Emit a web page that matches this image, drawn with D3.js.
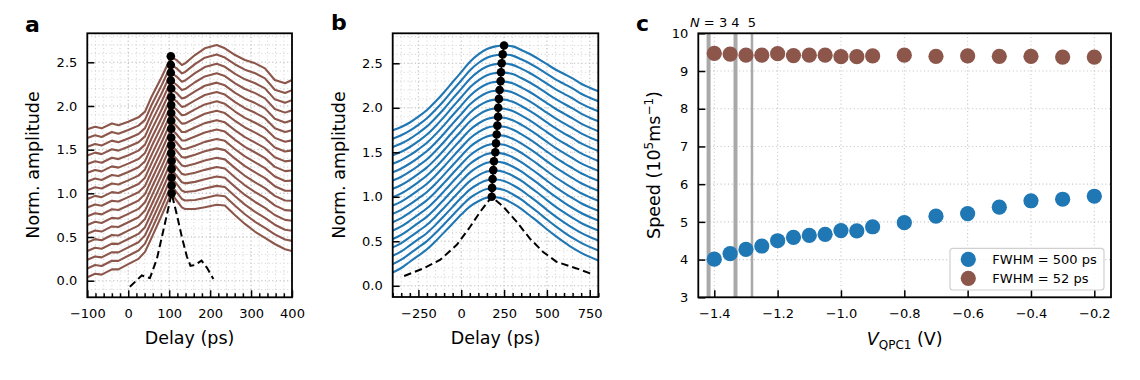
<!DOCTYPE html>
<html>
<head>
<meta charset="utf-8">
<script src="https://cdn.jsdelivr.net/npm/d3@7"></script>
<style>
  body { margin: 0; background: #fff; }
  svg { font-family: "DejaVu Sans", sans-serif; }
</style>
</head>
<body>
<svg id="fig" width="1140" height="380"></svg>
<script>
// ---- panel a: short pulse (FWHM = 52 ps) ----
const delayA = [-100, -81, -65, -40, -24, 0, 25, 41, 57, 82, 105, 118, 131, 139, 163, 187, 216, 236, 261, 285, 310, 334, 358, 383, 400];
const firstTraceA = [0.04, 0.08, 0.07, 0.13, 0.13, 0.19, 0.25, 0.33, 0.49, 0.75, 1.0, 0.92, 0.84, 0.82, 0.82, 0.84, 0.87, 0.86, 0.75, 0.65, 0.56, 0.49, 0.42, 0.36, 0.34];
const lastTraceA = [0.033, 0.063, 0.044, 0.10, 0.08, 0.12, 0.17, 0.235, 0.406, 0.635, 0.864, 0.826, 0.769, 0.788, 0.883, 0.96, 0.998, 0.96, 0.883, 0.826, 0.788, 0.73, 0.597, 0.56, 0.597];
const inputDelayA = [4, 33, 53, 70, 86, 106, 118, 131, 143, 152, 163, 179, 192, 208];
const inputAmpA = [-0.07, 0.06, 0.03, 0.25, 0.58, 1.0, 0.77, 0.50, 0.28, 0.17, 0.18, 0.23, 0.15, 0.02];
const peakDelayA = [106, 106, 106, 106, 106, 105, 105, 105, 105, 105, 105, 105, 105, 105, 104, 104, 104, 104];
const peakAmpA = [1.00, 1.09, 1.18, 1.28, 1.37, 1.46, 1.55, 1.64, 1.74, 1.83, 1.92, 2.01, 2.10, 2.20, 2.29, 2.38, 2.47, 2.57];

// ---- panel b: long pulse (FWHM = 500 ps) ----
const delayB = [-400, -350, -300, -250, -200, -150, -100, -50, 0, 50, 100, 150, 200, 250, 300, 350, 400, 450, 500, 550, 600, 650, 700, 750, 800];
const firstTraceB = [0.15, 0.20, 0.27, 0.34, 0.41, 0.50, 0.60, 0.70, 0.80, 0.89, 0.95, 0.99, 0.995, 0.975, 0.925, 0.865, 0.79, 0.715, 0.635, 0.56, 0.49, 0.425, 0.37, 0.325, 0.285];
const lastTraceB = [0.047, 0.085, 0.135, 0.20, 0.275, 0.37, 0.475, 0.59, 0.70, 0.815, 0.90, 0.96, 0.99, 1.0, 0.99, 0.95, 0.905, 0.85, 0.79, 0.73, 0.68, 0.63, 0.57, 0.525, 0.485];
const inputDelayB = [-333, -221, -124, -26, 51, 110, 178, 245, 323, 401, 478, 556, 673, 766];
const inputAmpB = [0.11, 0.195, 0.29, 0.46, 0.66, 0.83, 1.0, 0.89, 0.72, 0.53, 0.38, 0.27, 0.195, 0.13];
const peakDelayB = [178, 180, 183, 187, 191, 199, 203, 207, 211, 215, 216, 220, 224, 230, 232, 236, 242, 250];
const peakAmpB = [1.0, 1.1, 1.2, 1.3, 1.4, 1.5, 1.6, 1.7, 1.8, 1.9, 2.0, 2.1, 2.2, 2.3, 2.4, 2.5, 2.6, 2.7];

// vertical offset of each trace and how far it has evolved from first to last trace
const traceOffset = [0, 0.1, 0.2, 0.3, 0.4, 0.5, 0.6, 0.7, 0.8, 0.9, 1.0, 1.1, 1.2, 1.3, 1.4, 1.5, 1.6, 1.7];
const traceShape = [0, 0.06, 0.12, 0.18, 0.24, 0.29, 0.35, 0.41, 0.47, 0.53, 0.59, 0.65, 0.71, 0.76, 0.82, 0.88, 0.94, 1];

// ---- panel c: speed vs gate voltage ----
const vQPC = [-1.4, -1.35, -1.3, -1.25, -1.2, -1.15, -1.1, -1.05, -1.0, -0.95, -0.9, -0.8, -0.7, -0.6, -0.5, -0.4, -0.3, -0.2];
const speed500 = [4.01, 4.16, 4.27, 4.36, 4.50, 4.59, 4.64, 4.67, 4.77, 4.76, 4.87, 4.98, 5.15, 5.22, 5.39, 5.56, 5.60, 5.68];
const speed52 = [9.47, 9.45, 9.42, 9.42, 9.46, 9.41, 9.42, 9.42, 9.38, 9.38, 9.40, 9.42, 9.39, 9.40, 9.39, 9.39, 9.37, 9.37];
const channelV = [-1.418, -1.333, -1.281];
const channelLabel = ["N = 3", "4", "5"];
const seriesNames = ["FWHM = 500 ps", "FWHM = 52 ps"];

const BLUE = "#1f77b4", BROWN = "#8c564b";
const svg = d3.select("#fig");
const fmt1 = d3.format(".1f");
const fmt0 = d3.format("d");

// axes box with dotted grid, inward ticks and spines
function makeAxes(id, box, xDom, yDom, o) {
  const x = d3.scaleLinear().domain(xDom).range([box.l, box.r]);
  const y = d3.scaleLinear().domain(yDom).range([box.b, box.t]);
  const g = svg.append("g");

  svg.append("clipPath").attr("id", id).append("rect")
    .attr("x", box.l).attr("y", box.t).attr("width", box.r - box.l).attr("height", box.b - box.t);

  const grid = g.append("g");
  const gridLines = (xs, ys, col) => {
    grid.selectAll(null).data(xs).enter().append("line")
      .attr("x1", d => x(d)).attr("x2", d => x(d)).attr("y1", box.t).attr("y2", box.b)
      .attr("stroke", col).attr("stroke-width", 1.1).attr("stroke-dasharray", "1.1,2.6");
    grid.selectAll(null).data(ys).enter().append("line")
      .attr("y1", d => y(d)).attr("y2", d => y(d)).attr("x1", box.l).attr("x2", box.r)
      .attr("stroke", col).attr("stroke-width", 1.1).attr("stroke-dasharray", "1.1,2.6");
  };
  if (o.xMinor) gridLines(o.xMinor, o.yMinor, "#d8d8d8");
  gridLines(o.xMajor, o.yMajor, "#c8c8c8");

  const layer = g.append("g").attr("clip-path", `url(#${id})`);
  const top = g.append("g");

  // ticks
  top.append("g").attr("transform", `translate(0,${box.b})`)
    .call(d3.axisBottom(x).tickValues(o.xMajor).tickFormat(o.xFmt).tickSize(-7).tickPadding(11.5));
  top.append("g").attr("transform", `translate(${box.l},0)`)
    .call(d3.axisLeft(y).tickValues(o.yMajor).tickFormat(o.yFmt).tickSize(-7).tickPadding(10));
  if (o.xMinor) {
    top.append("g").attr("transform", `translate(0,${box.b})`)
      .call(d3.axisBottom(x).tickValues(o.xMinor.filter(v => !o.xMajor.includes(v))).tickFormat("").tickSize(-4));
  }
  top.selectAll(".domain").remove();
  top.selectAll(".tick line").attr("stroke", "#000").attr("stroke-width", 1.5);
  top.selectAll(".tick text").attr("font-size", 13).attr("fill", "#000").attr("font-family", "DejaVu Sans");

  top.append("rect").attr("x", box.l).attr("y", box.t)
    .attr("width", box.r - box.l).attr("height", box.b - box.t)
    .attr("fill", "none").attr("stroke", "#000").attr("stroke-width", 1.8);

  return { x, y, layer, top };
}

function steps(a, b, s) {
  return d3.range(Math.round((b - a) / s) + 1).map(i => +(a + i * s).toFixed(6));
}

function panelLetter(t, px, py) {
  svg.append("text").attr("x", px).attr("y", py).text(t)
    .attr("font-size", 22).attr("font-weight", "bold");
}

function yLabel(bx, cy) {
  svg.append("text").attr("transform", `translate(${bx},${cy}) rotate(-90)`)
    .attr("text-anchor", "middle").attr("font-size", 17.5).text("Norm. amplitude");
}

function xLabel(cx, by, t) {
  svg.append("text").attr("x", cx).attr("y", by).attr("text-anchor", "middle")
    .attr("font-size", 17.5).text(t);
}

// traces: each one between the first and last measured shapes, shifted upward
function drawTraces(ax, delays, first, last, color, curve) {
  const line = d3.line().x(d => ax.x(d[0])).y(d => ax.y(d[1])).curve(curve);
  traceOffset.forEach((off, i) => {
    const w = traceShape[i];
    const pts = delays.map((d, j) => [d, off + (1 - w) * first[j] + w * last[j]]);
    ax.layer.append("path").attr("d", line(pts))
      .attr("fill", "none").attr("stroke", color).attr("stroke-width", 2.1)
      .attr("stroke-linejoin", "round");
  });
}

function drawInput(ax, delays, amps) {
  const line = d3.line().x((d, i) => ax.x(d)).y((d, i) => ax.y(amps[i]));
  ax.layer.append("path").attr("d", line(delays))
    .attr("fill", "none").attr("stroke", "#000").attr("stroke-width", 2)
    .attr("stroke-dasharray", "7.5,4");
}

function drawPeaks(ax, delays, amps) {
  const line = d3.line().x((d, i) => ax.x(d)).y((d, i) => ax.y(amps[i]));
  ax.layer.append("path").attr("d", line(delays))
    .attr("fill", "none").attr("stroke", "#000").attr("stroke-width", 1.5);
  ax.layer.selectAll(null).data(delays).enter().append("circle")
    .attr("cx", d => ax.x(d)).attr("cy", (d, i) => ax.y(amps[i]))
    .attr("r", 4.3).attr("fill", "#000");
}

// ---------- panel a ----------
const axA = makeAxes("clipA", { l: 87.3, r: 292, t: 33.3, b: 297.3 }, [-100, 400], [-0.19, 2.832], {
  xMajor: steps(-100, 400, 100), xMinor: steps(-100, 400, 20),
  yMajor: steps(0, 2.5, 0.5), yMinor: steps(-0.1, 2.8, 0.1),
  xFmt: fmt0, yFmt: fmt1
});
drawTraces(axA, delayA, firstTraceA, lastTraceA, BROWN, d3.curveLinear);
drawInput(axA, inputDelayA, inputAmpA);
drawPeaks(axA, peakDelayA, peakAmpA);
panelLetter("a", 25, 32);
yLabel(39, 165);
xLabel(189.6, 344, "Delay (ps)");

// ---------- panel b ----------
const axB = makeAxes("clipB", { l: 392.7, r: 598.3, t: 33.3, b: 297 }, [-400, 800], [-0.126, 2.837], {
  xMajor: steps(-250, 750, 250), xMinor: steps(-400, 800, 50),
  yMajor: steps(0, 2.5, 0.5), yMinor: steps(-0.1, 2.8, 0.1),
  xFmt: fmt0, yFmt: fmt1
});
drawTraces(axB, delayB, firstTraceB, lastTraceB, BLUE, d3.curveMonotoneX);
drawInput(axB, inputDelayB, inputAmpB);
drawPeaks(axB, peakDelayB, peakAmpB);
panelLetter("b", 331, 30);
yLabel(345, 165);
xLabel(495.5, 344, "Delay (ps)");

// ---------- panel c ----------
const axC = makeAxes("clipC", { l: 698.3, r: 1111, t: 33.3, b: 297.3 }, [-1.4505, -0.1473], [3, 10], {
  xMajor: steps(-1.4, -0.2, 0.2),
  yMajor: steps(3, 10, 1),
  xFmt: fmt1, yFmt: fmt0
});
// vertical markers at the conductance steps
const chWidth = [4, 4, 2.5];
axC.layer.selectAll(null).data(channelV).enter().append("line")
  .attr("x1", d => axC.x(d)).attr("x2", d => axC.x(d))
  .attr("y1", axC.y(3)).attr("y2", axC.y(10))
  .attr("stroke", "#a9a9a9").attr("stroke-width", (d, i) => chWidth[i]);
svg.selectAll(null).data(channelV).enter().append("text")
  .attr("x", d => axC.x(d)).attr("y", 27).attr("text-anchor", "middle")
  .attr("font-size", 13)
  .each(function (d, i) {
    const t = d3.select(this);
    if (i === 0) {
      t.append("tspan").attr("font-style", "italic").text("N");
      t.append("tspan").text(" = 3");
    } else {
      t.text(channelLabel[i]);
    }
  });

[[speed500, BLUE], [speed52, BROWN]].forEach(([vals, col]) => {
  axC.layer.selectAll(null).data(vQPC).enter().append("circle")
    .attr("cx", d => axC.x(d)).attr("cy", (d, i) => axC.y(vals[i]))
    .attr("r", 7.6).attr("fill", col);
});

// legend
const lg = axC.top.append("g");
lg.append("rect").attr("x", 950).attr("y", 248.3).attr("width", 154).attr("height", 41.7)
  .attr("rx", 3).attr("fill", "#fff").attr("fill-opacity", 0.8)
  .attr("stroke", "#d0d0d0").attr("stroke-width", 1.2);
[BLUE, BROWN].forEach((col, i) => {
  const yy = 259.3 + i * 19;
  lg.append("circle").attr("cx", 968.3).attr("cy", yy).attr("r", 7.6).attr("fill", col);
  lg.append("text").attr("x", 992.3).attr("y", yy + 4.6).attr("font-size", 13).text(seriesNames[i]);
});

panelLetter("c", 636, 31);

const sl = svg.append("text").attr("transform", "translate(660,165) rotate(-90)")
  .attr("text-anchor", "middle").attr("font-size", 17.5);
sl.append("tspan").text("Speed (10");
sl.append("tspan").attr("dy", -7).attr("font-size", 12).text("5");
sl.append("tspan").attr("dy", 7).text("ms");
sl.append("tspan").attr("dy", -7).attr("font-size", 12).text("\u22121");
sl.append("tspan").attr("dy", 7).text(")");

const xl = svg.append("text").attr("x", 904.7).attr("y", 345).attr("text-anchor", "middle")
  .attr("font-size", 17.5);
xl.append("tspan").attr("font-style", "italic").text("V");
xl.append("tspan").attr("dy", 4).attr("font-size", 12).text("QPC1");
xl.append("tspan").attr("dy", -4).text(" (V)");
</script>
</body>
</html>
